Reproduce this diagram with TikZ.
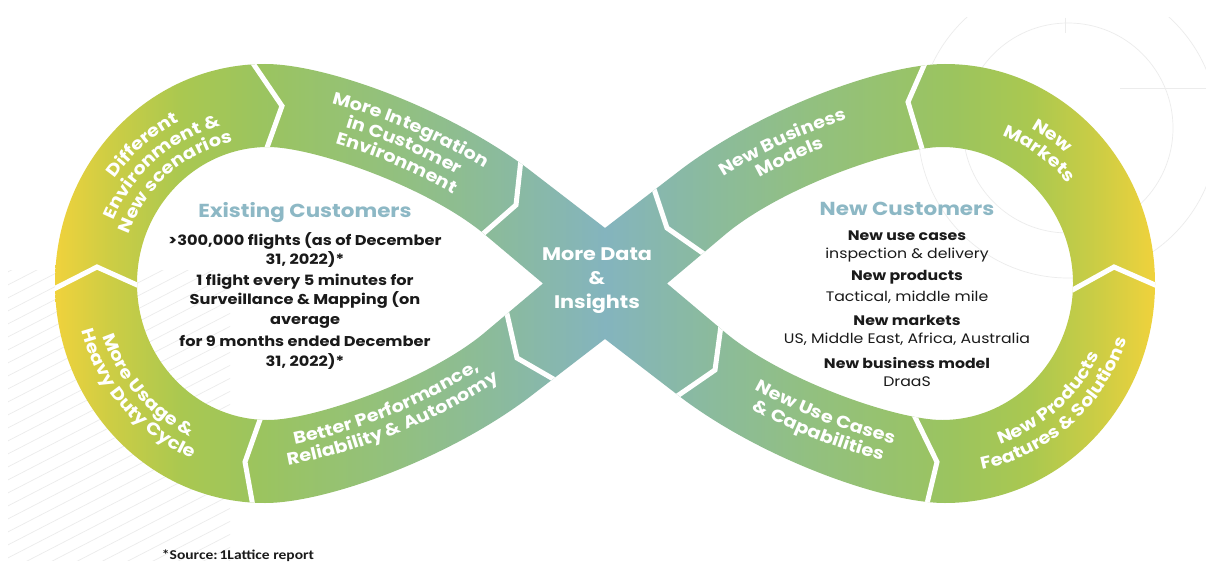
\documentclass[tikz,border=0pt]{standalone}
\usepackage{fontspec}
\usetikzlibrary{decorations.text}
\newfontfamily\popw{Poppins}[FakeStretch=1.14]
\newfontfamily\carl{Carlito}[FakeStretch=1.15]
\definecolor{c0}{RGB}{245,212,55}
\definecolor{c1}{RGB}{240,210,60}
\definecolor{c2}{RGB}{205,205,68}
\definecolor{c3}{RGB}{170,200,80}
\definecolor{c4}{RGB}{155,196,95}
\definecolor{c5}{RGB}{146,192,128}
\definecolor{c6}{RGB}{138,186,160}
\definecolor{c7}{RGB}{132,180,190}
\definecolor{titleblue}{RGB}{141,184,197}
\definecolor{txt}{RGB}{26,26,26}
\definecolor{deco}{RGB}{236,236,236}
\pgfdeclarehorizontalshading{infgrad}{100bp}{color(0bp)=(c0); color(25bp)=(c0); color(27.27bp)=(c1); color(29.55bp)=(c2); color(32.44bp)=(c3); color(35.74bp)=(c4); color(41.53bp)=(c5); color(46.07bp)=(c6); color(50bp)=(c7); color(53.93bp)=(c6); color(58.47bp)=(c5); color(64.26bp)=(c4); color(67.56bp)=(c3); color(70.45bp)=(c2); color(72.73bp)=(c1); color(75bp)=(c0); color(100bp)=(c0)}
\newcommand\segfont{\popw\bfseries\fontsize{17}{20}\selectfont\color{white}}
% #1 centre, #2 radius, #3 start angle, #4 end angle, #5 text
\newcommand\arcline[5]{\path[decorate, decoration={text along path, text={|\segfont|#5}, text align=center}]
  ([shift={#1}]#3:#2) arc[start angle=#3, end angle=#4, radius=#2];}
\begin{document}
\begin{tikzpicture}[x=1pt,y=-1pt,
  gapline/.style={white, line width=5pt, line join=miter, line cap=butt},
  ttl/.style={text=titleblue, font=\popw\bfseries\fontsize{18.8}{22}\selectfont, inner sep=0pt},
  body/.style={text=txt, font=\popw\bfseries\fontsize{14.2}{19.5}\selectfont, align=center, inner sep=0pt},
  hd/.style={text=txt, font=\popw\bfseries\fontsize{13.8}{17}\selectfont, inner sep=0pt},
  rg/.style={text=txt, font=\popw\fontsize{13.8}{17}\selectfont, inner sep=0pt},
  decoline/.style={draw=deco, line width=0.7pt}]
\useasboundingbox (0,0) rectangle (1206,564);
\fill[white] (0,0) rectangle (1206,564);
% faint background decorations
\begin{scope}
  \clip (8,270) rectangle (230,560);
  \foreach \i in {0,...,40} {\draw[decoline] (0,250+\i*13) -- ++(320,-165);}
\end{scope}
\begin{scope}
  \clip (880,18) rectangle (1206,290);
  \draw[decoline] (1068,128) circle[radius=105];
  \draw[decoline] (1068,128) circle[radius=150];
  \draw[decoline] (1065,18) -- (1065,33);
  \draw[decoline] (1120,88) -- (1206,88);
\end{scope}
% infinity band
\begin{scope}[even odd rule]
\clip (605,228) -- (527,168) .. controls (445,107) and (325,64) .. (265,64)
  .. controls (149,64) and (55,162) .. (55,283.5)
  .. controls (55,405) and (149,503) .. (265,503)
  .. controls (325,503) and (445,460) .. (527,399) -- (605,339) -- (683,399)
  .. controls (765,460) and (885,503) .. (945,503)
  .. controls (1061,503) and (1155,405) .. (1155,283.5)
  .. controls (1155,162) and (1061,64) .. (945,64)
  .. controls (885,64) and (765,107) .. (683,168) -- cycle
  (543,283.5) -- (483,233) .. controls (424,185) and (312,147) .. (268,147)
  .. controls (196,147) and (137,208) .. (137,283.5)
  .. controls (137,359) and (196,420) .. (268,420)
  .. controls (312,420) and (424,382) .. (483,334) -- cycle
  (667,283.5) -- (727,233) .. controls (786,185) and (898,147) .. (942,147)
  .. controls (1014,147) and (1073,208) .. (1073,283.5)
  .. controls (1073,359) and (1014,420) .. (942,420)
  .. controls (898,420) and (786,382) .. (727,334) -- cycle;
\shade[shading=infgrad] (0,0) rectangle (1210,567);
\draw[gapline] (248,56) -- (282,106) -- (264,156);
\draw[gapline] (522,150) -- (516,205) -- (476,240);
\draw[gapline] (505,305) -- (517,358) -- (562,384);
\draw[gapline] (262,414) -- (245,462) -- (254,512);
\draw[gapline] (48,292) -- (97,267) -- (146,289);
\draw[gapline] (651,180) -- (667,228) -- (707,256);
\draw[gapline] (722,318) -- (715,370) -- (670,401);
\draw[gapline] (914,415) -- (937,462) -- (925,512);
\draw[gapline] (1067,293) -- (1114,267) -- (1162,288);
\draw[gapline] (929,54) -- (908,102) -- (923,152);
\end{scope}
% segment labels along the band
\arcline{(265,283.5)}{183}{-176.5}{-86.5}{Different}
\arcline{(265,283.5)}{164}{-176.5}{-86.5}{Environment {\&}}
\arcline{(265,283.5)}{145}{-176.5}{-86.5}{New scenarios}
\arcline{(181,670.7)}{587}{-92}{-42}{More Integration}
\arcline{(181,670.7)}{568}{-92}{-42}{in Customer}
\arcline{(181,670.7)}{549}{-92}{-42}{Environment}
\arcline{(265,283.5)}{170.5}{-176}{-266}{More Usage {\&}}
\arcline{(265,283.5)}{189.5}{-176}{-266}{Heavy Duty Cycle}
\arcline{(181,-103.7)}{560}{93}{43}{Better Performance,}
\arcline{(181,-103.7)}{579}{93}{43}{Reliability {\&} Autonomy}
\arcline{(1029,670.7)}{581}{-140}{-90}{New Business}
\arcline{(1029,670.7)}{562}{-140}{-90}{Models}
\arcline{(945,283.5)}{177.5}{-99}{-9}{New}
\arcline{(945,283.5)}{158.5}{-99}{-9}{Markets}
\arcline{(945,283.5)}{170}{93}{3}{New Products}
\arcline{(945,283.5)}{190}{93}{3}{Features {\&} Solutions}
\arcline{(1029,-103.7)}{564}{136.5}{86.5}{New Use Cases}
\arcline{(1029,-103.7)}{583}{136.5}{86.5}{{\&} Capabilities}
\node[text=white, font=\popw\bfseries\fontsize{18.2}{24}\selectfont, align=center, inner sep=0pt] (t5) at (597,281) {More Data\\\&\\Insights};
% existing customers
\node[ttl] (ec) at (305,213) {Existing Customers};
\node[body] (ec1) at (305,250) {>300,000 flights (as of December\\31, 2022)*};
\node[body] (ec2) at (305,301) {1 flight every 5 minutes for\\Surveillance \& Mapping (on\\average};
\node[body] (ec3) at (305,352.5) {for 9 months ended December\\31, 2022)*};
% new customers
\node[ttl] (nc) at (907,209) {New Customers};
\node[hd] (n1) at (907,236) {New use cases};
\node[rg] (n2) at (907,255) {inspection \& delivery};
\node[hd] (n3) at (907,277) {New products};
\node[rg] (n4) at (907,297) {Tactical, middle mile};
\node[hd] (n5) at (907,320) {New markets};
\node[rg] (n6) at (907,339) {US, Middle East, Africa, Australia};
\node[hd] (n7) at (907,363) {New business model};
\node[rg] (n8) at (907,382) {DraaS};
% footnote
\node[text=txt, font=\carl\bfseries\fontsize{13.5}{15}\selectfont, inner sep=0pt] (src) at (238,556) {*Source:\kern-1.5pt\ 1Lattice report};
\end{tikzpicture}
\end{document}
